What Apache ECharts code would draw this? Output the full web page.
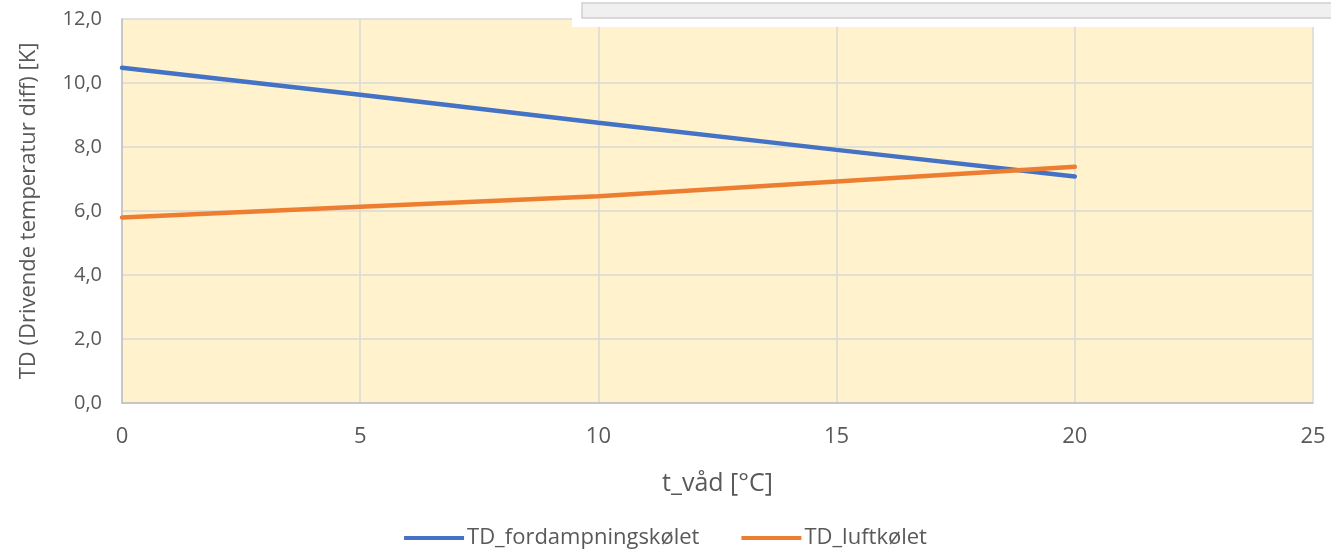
<!DOCTYPE html>
<html>
<head>
<meta charset="utf-8">
<script src="https://cdn.jsdelivr.net/npm/echarts@6/dist/echarts.min.js"></script>
<style>
  html, body { margin: 0; padding: 0; background: #fff; }
  #chart { width: 1331px; height: 554px; }
</style>
</head>
<body>
<div id="chart"></div>
<script>
// t_våd [°C]
const tVaad = [0, 5, 10, 15, 20];
const tdFordampning = [10.48, 9.63, 8.76, 7.91, 7.08];
const tdLuft = [5.8, 6.13, 6.46, 6.92, 7.38];
const seriesNames = ["TD_fordampningskølet", "TD_luftkølet"];

const textColor = "#595959";
const fontFam = "'Open Sans', 'Liberation Sans', sans-serif";

function pairs(xs, ys) {
  return xs.map((x, i) => [x, ys[i]]);
}

const myChart = echarts.init(document.getElementById("chart"));
const option = {
  animation: false,
  textStyle: { fontFamily: fontFam, color: textColor },
  grid: { left: 122, right: 18, top: 19, bottom: 151, show: true, backgroundColor: "#FFF2CC", borderWidth: 0 },
  xAxis: {
    type: "value",
    min: 0, max: 25, interval: 5,
    name: "t_våd [°C]",
    nameLocation: "middle",
    nameGap: 68,
    nameTextStyle: { fontSize: 25, color: textColor, fontFamily: fontFam },
    axisLine: { show: true, lineStyle: { color: "#BFBFBF", width: 1.5 } },
    axisTick: { show: false },
    axisLabel: { fontSize: 22, color: textColor, margin: 23, fontFamily: fontFam },
    splitLine: { show: true, lineStyle: { color: "#D9D9D9", width: 1.5 } }
  },
  yAxis: {
    type: "value",
    min: 0, max: 12, interval: 2,
    name: "TD (Drivende temperatur diff) [K]",
    nameLocation: "middle",
    nameGap: 82,
    nameTextStyle: { fontSize: 22, color: textColor, fontFamily: fontFam },
    axisLine: { show: true, lineStyle: { color: "#BFBFBF", width: 1.5 } },
    axisTick: { show: false },
    axisLabel: {
      fontSize: 20, color: textColor, margin: 20, fontFamily: fontFam,
      formatter: v => v.toFixed(1).replace(".", ",")
    },
    splitLine: { show: true, lineStyle: { color: "#D9D9D9", width: 1.5 } }
  },
  legend: {
    bottom: 0,
    left: "center",
    itemWidth: 60,
    itemHeight: 4,
    itemGap: 42,
    icon: "rect",
    textStyle: { fontSize: 22, color: textColor, fontFamily: fontFam, padding: [0, 0, 0, -2] },
    data: seriesNames
  },
  series: [
    {
      name: seriesNames[0],
      type: "line",
      data: pairs(tVaad, tdFordampning),
      showSymbol: false,
      lineStyle: { color: "#4472C4", width: 4.5, cap: "round" },
      itemStyle: { color: "#4472C4" }
    },
    {
      name: seriesNames[1],
      type: "line",
      data: pairs(tVaad, tdLuft),
      showSymbol: false,
      lineStyle: { color: "#ED7D31", width: 4.5, cap: "round" },
      itemStyle: { color: "#ED7D31" }
    }
  ],
  graphic: [
    { type: "rect", shape: { x: 572, y: 0, width: 760, height: 27 }, style: { fill: "#FFFFFF" }, z: 100 },
    { type: "rect", shape: { x: 582, y: 3, width: 760, height: 15 }, style: { fill: "#F0F0F0", stroke: "#CFCFCF", lineWidth: 1.5 }, z: 101 }
  ]
};
myChart.setOption(option);
window.addEventListener("resize", function () {
  myChart.resize();
});
</script>
</body>
</html>
